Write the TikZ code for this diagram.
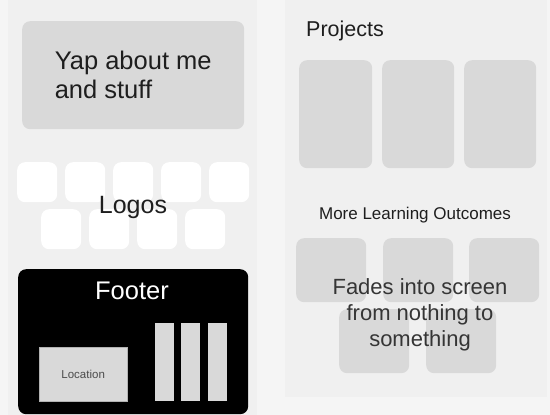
\documentclass[tikz,border=0pt]{standalone}
\usepackage{fontspec}
\setmainfont{Liberation Sans}

\definecolor{bggray}{HTML}{F5F5F5}
\definecolor{panelgray}{HTML}{F0F0F0}
\definecolor{cardgray}{HTML}{D9D9D9}
\definecolor{inkgray}{HTML}{1E1E1E}

\begin{document}
\begin{tikzpicture}[x=1pt, y=-1pt,
  card/.style={fill=cardgray, rounded corners=8pt, anchor=north west, inner sep=0pt},
  logo/.style={fill=white, rounded corners=8pt, anchor=north west, inner sep=0pt, minimum width=40pt, minimum height=40pt},
  bar/.style={fill=cardgray, anchor=north west, inner sep=0pt, minimum width=19pt, minimum height=78pt},
  label/.style={text=inkgray, inner sep=0pt}]

\fill [bggray] (0,0) rectangle (550,415) ;
\useasboundingbox (0,0) rectangle (550,415) ;

\fill [panelgray] (8,0) rectangle (257,415) ;
\fill [panelgray] (285,0) rectangle (547,397) ;

\node [card, minimum width=222pt, minimum height=108pt, align=left, text=inkgray, font=\fontsize{25.5}{29}\selectfont] (yap) at (22,21) {Yap about me\\and stuff} ;

\node [logo] (logo1) at (17,162) {} ;
\node [logo] (logo2) at (65,162) {} ;
\node [logo] (logo3) at (113,162) {} ;
\node [logo] (logo4) at (161,162) {} ;
\node [logo] (logo5) at (209,162) {} ;
\node [logo] (logo6) at (41,209) {} ;
\node [logo] (logo7) at (89,209) {} ;
\node [logo] (logo8) at (137,209) {} ;
\node [logo] (logo9) at (185,209) {} ;
\node [label, font=\fontsize{25}{29}\selectfont] (logostxt) at (133,207) {Logos} ;

\node [fill=black, rounded corners=8pt, anchor=north west, minimum width=230pt, minimum height=145pt] (footer) at (18,269) {} ;
\node [text=white, font=\fontsize{25.5}{29}\selectfont] (footertxt) at (132,291) {Footer} ;
\node [fill=cardgray, draw=gray!60, line width=0.4pt, anchor=north west, minimum width=88pt, minimum height=54pt, font=\fontsize{11.5}{13}\selectfont, text=inkgray!80] (location) at (39,347) {Location} ;
\node [bar] (bar1) at (155,323) {} ;
\node [bar] (bar2) at (181,323) {} ;
\node [bar] (bar3) at (208,323) {} ;

\node [label, anchor=west, font=\fontsize{21.5}{25}\selectfont] (projtxt) at (306,31) {Projects} ;
\node [card, minimum width=73pt, minimum height=108pt] (proj1) at (299,60) {} ;
\node [card, minimum width=72pt, minimum height=108pt] (proj2) at (382,60) {} ;
\node [card, minimum width=72pt, minimum height=108pt] (proj3) at (464,60) {} ;

\node [label, font=\fontsize{17}{20}\selectfont] (moretxt) at (415,215) {More Learning Outcomes} ;
\node [card, minimum width=70pt, minimum height=64pt] (outcome1) at (296,238) {} ;
\node [card, minimum width=70pt, minimum height=64pt] (outcome2) at (383,238) {} ;
\node [card, minimum width=70pt, minimum height=64pt] (outcome3) at (469,238) {} ;
\node [card, minimum width=70pt, minimum height=64pt] (outcome4) at (339,309) {} ;
\node [card, minimum width=70pt, minimum height=64pt] (outcome5) at (426,309) {} ;
\node [label, align=center, text=inkgray!90, font=\fontsize{22}{26}\selectfont] (fadestxt) at (420,315) {Fades into screen\\from nothing to\\something} ;

\end{tikzpicture}
\end{document}
